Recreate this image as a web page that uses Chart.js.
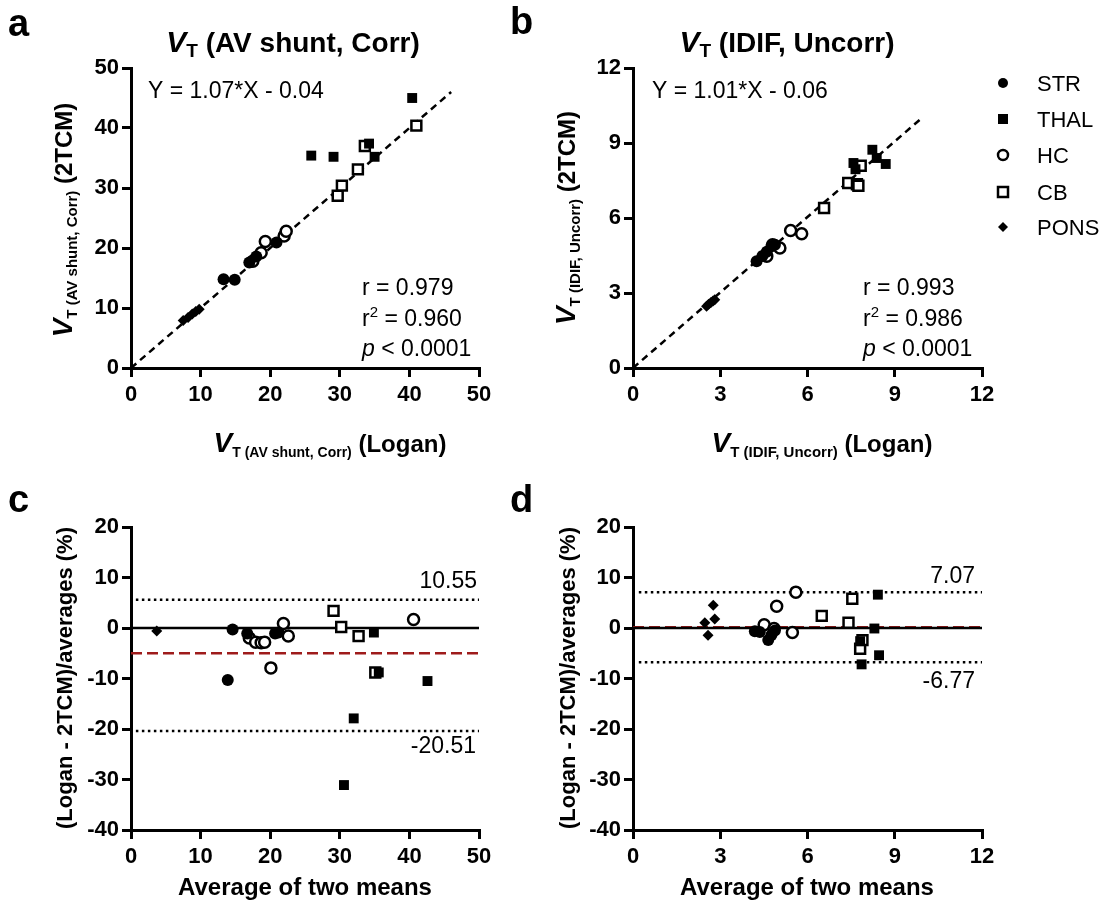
<!DOCTYPE html>
<html>
<head>
<meta charset="utf-8">
<script src="https://cdn.jsdelivr.net/npm/chart.js@4/dist/chart.umd.min.js"></script>
<style>
  body { margin: 0; background: #fff; width: 1105px; height: 906px; position: relative; overflow: hidden; }
  canvas { position: absolute; }
</style>
</head>
<body>
<canvas id="pa" width="550" height="470" style="left:0;top:0"></canvas>
<canvas id="pb" width="605" height="470" style="left:500px;top:0"></canvas>
<canvas id="pc" width="550" height="436" style="left:0;top:470px"></canvas>
<canvas id="pd" width="605" height="436" style="left:500px;top:470px"></canvas>
<script>
// region names (legend order)
const regions = ["STR", "THAL", "HC", "CB", "PONS"];

// panel a: VT (AV shunt, Corr), [Logan, 2TCM]
const strA = [[13.3, 14.8], [14.9, 14.7], [17.0, 17.6], [18.0, 18.6], [20.9, 20.9]];
const thalA = [[25.9, 35.4], [29.1, 35.2], [34.2, 37.4], [35.0, 35.2], [40.4, 45.0]];
const hcA = [[17.5, 17.8], [18.7, 19.2], [19.3, 21.1], [22.0, 22.0], [22.3, 22.8]];
const cbA = [[29.7, 28.7], [30.3, 30.4], [32.6, 33.1], [33.6, 37.0], [41.0, 40.4]];
const ponsA = [[7.5, 7.9], [8.2, 8.4], [8.8, 9.0], [9.3, 9.4], [9.8, 9.8]];
const fitA = [[0, 0], [46, 46]];

// panel b: VT (IDIF, Uncorr), [Logan, 2TCM]
const strB = [[4.25, 4.27], [4.45, 4.48], [4.6, 4.65], [4.76, 4.87], [4.88, 4.93]];
const thalB = [[7.58, 8.2], [7.65, 7.95], [8.23, 8.73], [8.38, 8.4], [8.69, 8.16]];
const hcB = [[4.6, 4.47], [4.8, 4.93], [5.05, 4.8], [5.42, 5.5], [5.8, 5.37]];
const cbB = [[6.57, 6.4], [7.4, 7.4], [7.7, 7.35], [7.75, 7.29], [7.83, 8.09]];
const ponsB = [[2.53, 2.47], [2.6, 2.55], [2.68, 2.62], [2.75, 2.68], [2.81, 2.73]];
const fitB = [[0, 0], [9.93, 10]];

// panel c: Bland-Altman AV shunt, [average, % difference]
const strC = [[13.9, -10.3], [14.6, -0.3], [16.7, -1.1], [20.7, -1.1], [21.2, -0.9]];
const thalC = [[30.6, -31.1], [32.0, -17.9], [34.9, -0.9], [35.6, -8.8], [42.6, -10.5]];
const hcC = [[17.0, -2.0], [17.9, -2.8], [18.7, -2.9], [19.2, -2.8], [20.1, -7.9], [21.9, 0.9], [22.6, -1.6], [40.6, 1.7]];
const cbC = [[29.1, 3.4], [30.2, 0.2], [32.7, -1.6], [35.1, -8.8]];
const ponsC = [[3.7, -0.6]];
const limitsC = [5.6, -4.98, -20.4]; // upper dotted, mean, lower dotted (as drawn)
const limitLabelsC = ["10.55", "-20.51"];

// panel d: Bland-Altman IDIF, [average, % difference]
const strD = [[4.19, -0.66], [4.36, -0.8], [4.65, -2.4], [4.76, -1.4], [4.88, -0.5]];
const thalD = [[7.81, -2.6], [7.86, -7.2], [8.3, -0.1], [8.42, 6.6], [8.46, -5.4]];
const hcD = [[4.51, 0.66], [4.85, -0.1], [4.94, 4.3], [5.48, -0.9], [5.6, 7.1]];
const cbD = [[6.49, 2.4], [7.41, 1.05], [7.54, 5.8], [7.81, -4.1], [7.89, -2.4]];
const ponsD = [[2.47, 1.05], [2.58, -1.45], [2.76, 4.5], [2.81, 1.8]];
const limitsD = [7.07, 0.15, -6.77];
const limitLabelsD = ["7.07", "-6.77"];

const F = "'Liberation Sans', Arial, sans-serif";
const RED = "#9e1b1b";

const styles = {
	STR: { pointStyle: "circle", pointRadius: 6, backgroundColor: "#000", borderWidth: 0 },
	THAL: { pointStyle: "rect", pointRadius: 7, backgroundColor: "#000", borderWidth: 0 },
	HC: { pointStyle: "circle", pointRadius: 5.5, backgroundColor: "#fff", borderWidth: 2.5 },
	CB: { pointStyle: "rect", pointRadius: 7, backgroundColor: "#fff", borderWidth: 2.5 },
	PONS: { pointStyle: "rectRot", pointRadius: 5.5, backgroundColor: "#000", borderWidth: 0 }
};

function series(name, pts, order) {
	return Object.assign({
		label: name,
		data: pts.map((p) => ({ x: p[0], y: p[1] })),
		borderColor: "#000",
		showLine: false,
		order: order
	}, styles[name]);
}

function line(pts, color, dash, order) {
	return {
		data: pts.map((p) => ({ x: p[0], y: p[1] })),
		showLine: true,
		pointRadius: 0,
		borderColor: color,
		borderWidth: 2.5,
		borderDash: dash,
		order: order
	};
}

function axis(min, max, step, pos, size) {
	return {
		type: "linear",
		position: pos,
		min: min,
		max: max,
		ticks: { stepSize: step, color: "#000", font: { family: F, size: 22, weight: "bold" }, padding: pos === "left" ? 3 : 5, autoSkip: false, maxRotation: 0 },
		grid: { display: true, drawOnChartArea: false, drawTicks: true, tickLength: 9, color: "#000", lineWidth: 3 },
		border: { display: true, color: "#000", width: 3 },
		afterFit: (s) => {
			if (pos === "left") s.width = size;
			else s.height = size;
		}
	};
}

// draws a run of text pieces [text, font, dy] starting/centred at x,y
function rich(ctx, parts, x, y, align, rot) {
	ctx.save();
	ctx.translate(x, y);
	if (rot) ctx.rotate(-Math.PI / 2);
	ctx.textBaseline = "alphabetic";
	ctx.textAlign = "left";
	ctx.fillStyle = "#000";
	let w = 0;
	parts.forEach((p) => { ctx.font = p[1]; w += ctx.measureText(p[0]).width; });
	let cx = align === "center" ? -w / 2 : align === "right" ? -w : 0;
	parts.forEach((p) => {
		ctx.font = p[1];
		ctx.fillText(p[0], cx, p[2] || 0);
		cx += ctx.measureText(p[0]).width;
	});
	ctx.restore();
}

const fB = (s) => "bold " + s + "px " + F;
const fN = (s) => s + "px " + F;
const fIB = (s) => "italic bold " + s + "px " + F;
const fI = (s) => "italic " + s + "px " + F;

function stats(ctx, x, r, r2) {
	rich(ctx, [["r = " + r, fN(23)]], x, 295, "left");
	rich(ctx, [["r", fN(23)], ["2", fN(15), -9], [" = " + r2, fN(23)]], x, 326, "left");
	rich(ctx, [["p", fI(23)], [" < 0.0001", fN(23)]], x, 356, "left");
}

function marker(ctx, name, x, y) {
	const st = styles[name];
	ctx.save();
	ctx.beginPath();
	if (st.pointStyle === "circle") ctx.arc(x, y, 5, 0, 2 * Math.PI);
	else if (st.pointStyle === "rect") ctx.rect(x - 5, y - 5, 10, 10);
	else { ctx.moveTo(x - 5, y); ctx.lineTo(x, y - 5); ctx.lineTo(x + 5, y); ctx.lineTo(x, y + 5); ctx.closePath(); }
	ctx.fillStyle = st.backgroundColor;
	ctx.fill();
	if (st.borderWidth) { ctx.lineWidth = 2.5; ctx.strokeStyle = "#000"; ctx.stroke(); }
	ctx.restore();
}

function panel(id, ox, oy, sets, lines, xs, ys, pad, drawText) {
	const datasets = sets.map((s, i) => series(regions[i], s, i)).concat(lines);
	new Chart(document.getElementById(id), {
		type: "scatter",
		data: { datasets: datasets },
		options: {
			responsive: false,
			animation: false,
			events: [],
			layout: { padding: { top: pad.top, right: pad.right, left: 0, bottom: 0 } },
			plugins: { legend: { display: false }, tooltip: { enabled: false } },
			scales: {
				x: axis(xs[0], xs[1], xs[2], "bottom", pad.xh),
				y: axis(ys[0], ys[1], ys[2], "left", pad.yw)
			}
		},
		plugins: [{
			id: "texts",
			afterDraw(chart) {
				const ctx = chart.ctx;
				ctx.save();
				ctx.translate(-ox, -oy);
				drawText(ctx);
				ctx.restore();
			}
		}]
	});
}

// a
panel("pa", 0, 0, [strA, thalA, hcA, cbA, ponsA],
	[line(fitA, "#000", [7, 5], 10)],
	[0, 50, 10], [0, 50, 10], { top: 68, right: 71, xh: 102, yw: 131 },
	(ctx) => {
		rich(ctx, [["a", fB(38)]], 8, 36, "left");
		rich(ctx, [["V", fIB(30)], ["T", fB(19), 5], [" (AV shunt, Corr)", fB(28)]], 293, 52, "center");
		rich(ctx, [["V", fIB(28)], ["T (AV shunt, Corr)", fB(15), 5], [" (2TCM)", fB(24)]], 72, 220, "center", true);
		rich(ctx, [["V", fIB(28)], ["T (AV shunt, Corr)", fB(14), 5], [" (Logan)", fB(24)]], 330, 452, "center");
		rich(ctx, [["Y = 1.07*X - 0.04", fN(23)]], 148, 98, "left");
		stats(ctx, 362, "0.979", "0.960");
	});

// b
panel("pb", 500, 0, [strB, thalB, hcB, cbB, ponsB],
	[line(fitB, "#000", [7, 5], 10)],
	[0, 12, 3], [0, 12, 3], { top: 68, right: 123, xh: 102, yw: 133 },
	(ctx) => {
		rich(ctx, [["b", fB(38)]], 510, 34, "left");
		rich(ctx, [["V", fIB(30)], ["T", fB(19), 5], [" (IDIF, Uncorr)", fB(28)]], 787, 52, "center");
		rich(ctx, [["V", fIB(28)], ["T (IDIF, Uncorr)", fB(15), 5], [" (2TCM)", fB(24)]], 575, 218, "center", true);
		rich(ctx, [["V", fIB(28)], ["T (IDIF, Uncorr)", fB(15), 5], [" (Logan)", fB(24)]], 822, 452, "center");
		rich(ctx, [["Y = 1.01*X - 0.06", fN(23)]], 652, 98, "left");
		stats(ctx, 863, "0.993", "0.986");
		const legY = [91, 127, 163, 200, 235];
		regions.forEach((name, i) => {
			marker(ctx, name, 1003, legY[i] - 8);
			rich(ctx, [[name, fN(22)]], 1037, legY[i], "left");
		});
	});

// c
panel("pc", 0, 470, [strC, thalC, hcC, cbC, ponsC],
	[
		line([[0, 0], [50, 0]], "#000", [], 11),
		line([[0, limitsC[1]], [50, limitsC[1]]], RED, [11, 5], 12),
		line([[0.7, limitsC[0]], [50, limitsC[0]]], "#000", [2.5, 3.5], 13),
		line([[0.7, limitsC[2]], [50, limitsC[2]]], "#000", [2.5, 3.5], 14)
	],
	[0, 50, 10], [-40, 20, 10], { top: 57, right: 71, xh: 76, yw: 131 },
	(ctx) => {
		rich(ctx, [["c", fB(38)]], 8, 512, "left");
		rich(ctx, [["(Logan - 2TCM)/averages (%)", fB(22)]], 72, 678, "center", true);
		rich(ctx, [["Average of two means", fB(24)]], 305, 895, "center");
		rich(ctx, [[limitLabelsC[0], fN(23)]], 477, 588, "right");
		rich(ctx, [[limitLabelsC[1], fN(23)]], 476, 753, "right");
	});

// d
panel("pd", 500, 470, [strD, thalD, hcD, cbD, ponsD],
	[
		line([[0, 0], [12, 0]], "#000", [], 11),
		line([[0, limitsD[1]], [12, limitsD[1]]], RED, [11, 5], 12),
		line([[0.2, limitsD[0]], [12, limitsD[0]]], "#000", [2.5, 3.5], 13),
		line([[0.2, limitsD[2]], [12, limitsD[2]]], "#000", [2.5, 3.5], 14)
	],
	[0, 12, 3], [-40, 20, 10], { top: 57, right: 123, xh: 76, yw: 133 },
	(ctx) => {
		rich(ctx, [["d", fB(38)]], 510, 512, "left");
		rich(ctx, [["(Logan - 2TCM)/averages (%)", fB(22)]], 575, 678, "center", true);
		rich(ctx, [["Average of two means", fB(24)]], 807, 895, "center");
		rich(ctx, [[limitLabelsD[0], fN(23)]], 975, 583, "right");
		rich(ctx, [[limitLabelsD[1], fN(23)]], 975, 688, "right");
	});
</script>
</body>
</html>
